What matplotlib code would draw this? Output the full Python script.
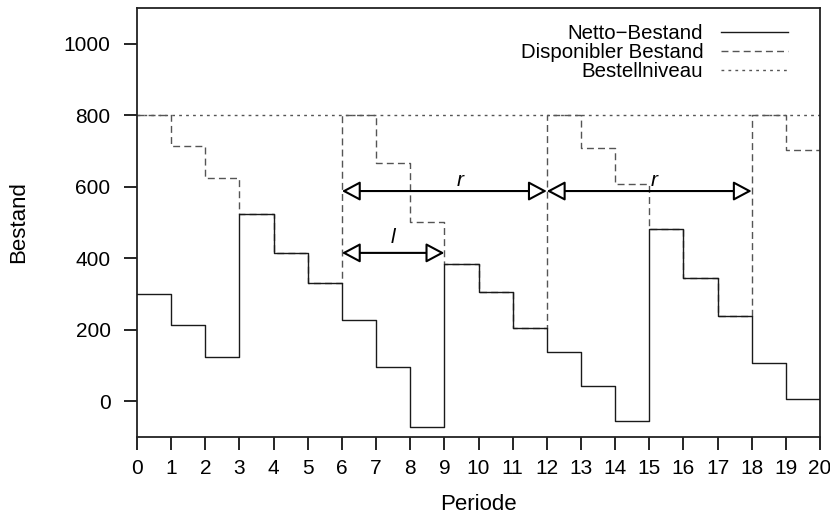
import matplotlib
matplotlib.use("Agg")
import matplotlib.pyplot as plt
import numpy as np

plt.rcParams['font.family'] = ['Liberation Sans', 'DejaVu Sans']

# Data
periods = list(range(21))
netto = [300, 213, 124, 525, 414, 330, 228, 96, -71, 385,
         305, 204, 137, 44, -56, 482, 344, 238, 106, 7]
disponibel = [800, 713, 624, 525, 414, 330, 800, 667, 500, 385,
              305, 204, 800, 707, 608, 482, 344, 238, 800, 702]
bestellniveau = 800
r_spans = [(6, 12), (12, 18)]
r_level = 588
r_label_x = [9.45, 15.15]
l_span = (6, 9)
l_level = 415
l_label_x = 7.5
labels = ["Netto\u2212Bestand", "Disponibler Bestand", "Bestellniveau"]

fig = plt.figure(figsize=(8.30, 5.17), dpi=100)
ax = fig.add_axes([137/830, 1-437/517, 683/830, 429/517])

x = np.array(periods)
d_vals = disponibel + [disponibel[-1]]
n_vals = netto + [netto[-1]]

l2, = ax.step(x, d_vals, where='post', color='#555555', lw=1.0,
              dashes=(5, 3), label=labels[1], zorder=2)
l1, = ax.step(x, n_vals, where='post', color='#1a1a1a', lw=1.0,
              label=labels[0], zorder=3)
l3, = ax.plot([periods[0], periods[-1]], [bestellniveau, bestellniveau],
              color='#555555', lw=1.0, dashes=(2, 3), label=labels[2], zorder=1)

aprops = dict(arrowstyle='<|-|>,head_length=0.75,head_width=0.4',
              fc='white', ec='black', lw=1.5, shrinkA=0, shrinkB=0,
              mutation_scale=15)
for (a, b), lx in zip(r_spans, r_label_x):
    ax.annotate('', xy=(b, r_level), xytext=(a, r_level), arrowprops=aprops, zorder=5)
    ax.text(lx, r_level + 30, 'r', style='italic', fontsize=15,
            ha='center', va='center')
ax.annotate('', xy=(l_span[1], l_level), xytext=(l_span[0], l_level),
            arrowprops=aprops, zorder=5)
ax.text(l_label_x, l_level + 42, 'l', style='italic', fontsize=15,
        ha='center', va='center')

ax.set_xlim(0, 20)
ax.set_ylim(-100, 1100)
ax.set_xticks(periods)
ax.set_yticks([0, 200, 400, 600, 800, 1000])
ax.tick_params(direction='out', length=9.5, width=1.2, labelsize=15,
               top=False, right=False)
ax.tick_params(axis='y', pad=9.5)
ax.tick_params(axis='x', pad=6)
for s in ax.spines.values():
    s.set_linewidth(1.3)
    s.set_color('#222222')

ax.set_xlabel('Periode', fontsize=16, labelpad=12)
ax.set_ylabel('Bestand', fontsize=16, labelpad=25)

leg = ax.legend(handles=[l1, l2, l3], loc='upper right',
                bbox_to_anchor=(0.953, 0.963), frameon=False,
                markerfirst=False, fontsize=14.7, handlelength=3.3,
                handletextpad=0.85, labelspacing=0.0, borderpad=0,
                borderaxespad=0)

fig.savefig('out.png', dpi=100)
